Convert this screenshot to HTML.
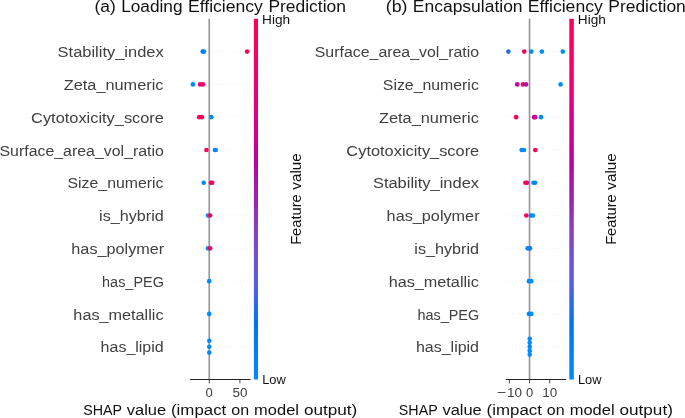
<!DOCTYPE html>
<html><head><meta charset="utf-8"><style>
html,body{margin:0;padding:0;background:#fff;}
body{width:685px;height:418px;overflow:hidden;}
svg{display:block;will-change:transform;font-family:"Liberation Sans",sans-serif;}
</style></head><body>
<svg width="685" height="418" viewBox="0 0 685 418">
<defs><linearGradient id="cbgrad" x1="0" y1="0" x2="0" y2="1"><stop offset="0.000" stop-color="#ff0051"/><stop offset="0.050" stop-color="#fe005c"/><stop offset="0.100" stop-color="#f90067"/><stop offset="0.150" stop-color="#f20072"/><stop offset="0.200" stop-color="#e9007c"/><stop offset="0.250" stop-color="#e00086"/><stop offset="0.300" stop-color="#d5008f"/><stop offset="0.350" stop-color="#c80098"/><stop offset="0.400" stop-color="#bb00a0"/><stop offset="0.450" stop-color="#ab15a7"/><stop offset="0.500" stop-color="#9b23ad"/><stop offset="0.550" stop-color="#9135ba"/><stop offset="0.600" stop-color="#8443c6"/><stop offset="0.650" stop-color="#754fd1"/><stop offset="0.700" stop-color="#6359da"/><stop offset="0.750" stop-color="#4b63e3"/><stop offset="0.800" stop-color="#236cea"/><stop offset="0.850" stop-color="#0074f0"/><stop offset="0.900" stop-color="#007cf5"/><stop offset="0.950" stop-color="#0084f9"/><stop offset="1.000" stop-color="#008bfb"/></linearGradient></defs>
<rect width="685" height="418" fill="#fff"/>
<line x1="189.90" y1="51.59" x2="250.50" y2="51.59" stroke="#cccccc" stroke-width="0.56" stroke-dasharray="0.56 2.8"/>
<line x1="189.90" y1="84.38" x2="250.50" y2="84.38" stroke="#cccccc" stroke-width="0.56" stroke-dasharray="0.56 2.8"/>
<line x1="189.90" y1="117.17" x2="250.50" y2="117.17" stroke="#cccccc" stroke-width="0.56" stroke-dasharray="0.56 2.8"/>
<line x1="189.90" y1="149.96" x2="250.50" y2="149.96" stroke="#cccccc" stroke-width="0.56" stroke-dasharray="0.56 2.8"/>
<line x1="189.90" y1="182.75" x2="250.50" y2="182.75" stroke="#cccccc" stroke-width="0.56" stroke-dasharray="0.56 2.8"/>
<line x1="189.90" y1="215.55" x2="250.50" y2="215.55" stroke="#cccccc" stroke-width="0.56" stroke-dasharray="0.56 2.8"/>
<line x1="189.90" y1="248.34" x2="250.50" y2="248.34" stroke="#cccccc" stroke-width="0.56" stroke-dasharray="0.56 2.8"/>
<line x1="189.90" y1="281.13" x2="250.50" y2="281.13" stroke="#cccccc" stroke-width="0.56" stroke-dasharray="0.56 2.8"/>
<line x1="189.90" y1="313.92" x2="250.50" y2="313.92" stroke="#cccccc" stroke-width="0.56" stroke-dasharray="0.56 2.8"/>
<line x1="189.90" y1="346.71" x2="250.50" y2="346.71" stroke="#cccccc" stroke-width="0.56" stroke-dasharray="0.56 2.8"/>
<line x1="209.25" y1="18.80" x2="209.25" y2="379.50" stroke="#999999" stroke-width="1.68"/>
<circle cx="202.70" cy="51.59" r="2.3" fill="#007ff7"/>
<circle cx="203.90" cy="51.59" r="2.3" fill="#007ff7"/>
<circle cx="247.10" cy="51.59" r="2.3" fill="#ff0051"/>
<circle cx="192.90" cy="84.38" r="2.3" fill="#008bfb"/>
<circle cx="200.10" cy="84.38" r="2.3" fill="#e00086"/>
<circle cx="203.00" cy="84.38" r="2.3" fill="#ff0058"/>
<circle cx="199.20" cy="117.17" r="2.3" fill="#ff0056"/>
<circle cx="201.90" cy="117.17" r="2.3" fill="#ff0056"/>
<circle cx="211.30" cy="117.17" r="2.3" fill="#008bfb"/>
<circle cx="206.40" cy="149.96" r="2.3" fill="#ff0056"/>
<circle cx="214.90" cy="149.96" r="2.3" fill="#008bfb"/>
<circle cx="215.80" cy="149.96" r="2.3" fill="#008bfb"/>
<circle cx="203.70" cy="182.75" r="2.3" fill="#008bfb"/>
<circle cx="212.20" cy="182.75" r="2.3" fill="#9b23ad"/>
<circle cx="210.90" cy="182.75" r="2.3" fill="#ff0056"/>
<circle cx="208.00" cy="215.55" r="2.3" fill="#008bfb"/>
<circle cx="210.10" cy="215.55" r="2.3" fill="#ff0051"/>
<circle cx="208.00" cy="248.34" r="2.3" fill="#008bfb"/>
<circle cx="210.10" cy="248.34" r="2.3" fill="#ff0051"/>
<circle cx="209.20" cy="281.13" r="2.3" fill="#008bfb"/>
<circle cx="209.20" cy="313.92" r="2.3" fill="#008bfb"/>
<circle cx="209.25" cy="340.71" r="2.3" fill="#008bfb"/>
<circle cx="209.25" cy="346.71" r="2.3" fill="#008bfb"/>
<circle cx="209.25" cy="352.61" r="2.3" fill="#008bfb"/>
<line x1="189.90" y1="379.50" x2="250.50" y2="379.50" stroke="#222222" stroke-width="1.1"/>
<line x1="209.25" y1="379.50" x2="209.25" y2="383.40" stroke="#333333" stroke-width="0.9"/>
<text x="205.64" y="396.90" font-size="12.92" fill="#404040" textLength="7.22" lengthAdjust="spacingAndGlyphs">0</text>
<line x1="239.90" y1="379.50" x2="239.90" y2="383.40" stroke="#333333" stroke-width="0.9"/>
<text x="232.48" y="396.90" font-size="12.92" fill="#404040" textLength="14.96" lengthAdjust="spacingAndGlyphs">50</text>
<text x="57.61" y="57.29" font-size="15.27" fill="#404040" textLength="106.10" lengthAdjust="spacingAndGlyphs">Stability_index</text>
<text x="63.74" y="90.08" font-size="15.27" fill="#404040" textLength="99.78" lengthAdjust="spacingAndGlyphs">Zeta_numeric</text>
<text x="31.09" y="122.87" font-size="15.27" fill="#404040" textLength="132.85" lengthAdjust="spacingAndGlyphs">Cytotoxicity_score</text>
<text x="-0.54" y="155.66" font-size="15.27" fill="#404040" textLength="164.41" lengthAdjust="spacingAndGlyphs">Surface_area_vol_ratio</text>
<text x="67.52" y="188.45" font-size="15.27" fill="#404040" textLength="96.00" lengthAdjust="spacingAndGlyphs">Size_numeric</text>
<text x="99.07" y="221.25" font-size="15.27" fill="#404040" textLength="64.64" lengthAdjust="spacingAndGlyphs">is_hybrid</text>
<text x="71.33" y="254.04" font-size="15.27" fill="#404040" textLength="92.94" lengthAdjust="spacingAndGlyphs">has_polymer</text>
<text x="102.10" y="286.83" font-size="15.27" fill="#404040" textLength="61.78" lengthAdjust="spacingAndGlyphs">has_PEG</text>
<text x="73.36" y="319.62" font-size="15.27" fill="#404040" textLength="90.16" lengthAdjust="spacingAndGlyphs">has_metallic</text>
<text x="100.64" y="352.41" font-size="15.27" fill="#404040" textLength="63.07" lengthAdjust="spacingAndGlyphs">has_lipid</text>
<text x="94.54" y="12.00" font-size="16.45" fill="#111111" textLength="21.29" lengthAdjust="spacingAndGlyphs">(a)</text><text x="121.20" y="12.00" font-size="16.45" fill="#111111" textLength="61.38" lengthAdjust="spacingAndGlyphs">Loading</text><text x="187.96" y="12.00" font-size="16.45" fill="#111111" textLength="74.94" lengthAdjust="spacingAndGlyphs">Efficiency</text><text x="268.41" y="12.00" font-size="16.45" fill="#111111" textLength="77.52" lengthAdjust="spacingAndGlyphs">Prediction</text>
<text x="83.22" y="414.60" font-size="15.27" fill="#111111" textLength="38.86" lengthAdjust="spacingAndGlyphs">SHAP</text><text x="126.81" y="414.60" font-size="15.27" fill="#111111" textLength="39.32" lengthAdjust="spacingAndGlyphs">value</text><text x="171.00" y="414.60" font-size="15.27" fill="#111111" textLength="55.28" lengthAdjust="spacingAndGlyphs">(impact</text><text x="231.29" y="414.60" font-size="15.27" fill="#111111" textLength="17.81" lengthAdjust="spacingAndGlyphs">on</text><text x="254.14" y="414.60" font-size="15.27" fill="#111111" textLength="44.81" lengthAdjust="spacingAndGlyphs">model</text><text x="303.90" y="414.60" font-size="15.27" fill="#111111" textLength="53.39" lengthAdjust="spacingAndGlyphs">output)</text>
<rect x="253.90" y="18.80" width="4.10" height="360.70" fill="url(#cbgrad)"/>
<text x="262.09" y="23.60" font-size="12.92" fill="#111111" textLength="28.05" lengthAdjust="spacingAndGlyphs">High</text>
<text x="262.15" y="384.20" font-size="12.92" fill="#111111" textLength="23.55" lengthAdjust="spacingAndGlyphs">Low</text>
<text transform="translate(300.80,199.15) rotate(-90)" x="-45.73" y="0" font-size="14.10" fill="#111111" textLength="50.57" lengthAdjust="spacingAndGlyphs">Feature</text><text transform="translate(300.80,199.15) rotate(-90)" x="9.51" y="0" font-size="14.10" fill="#111111" textLength="36.30" lengthAdjust="spacingAndGlyphs">value</text>
<line x1="505.70" y1="51.59" x2="565.90" y2="51.59" stroke="#cccccc" stroke-width="0.56" stroke-dasharray="0.56 2.8"/>
<line x1="505.70" y1="84.38" x2="565.90" y2="84.38" stroke="#cccccc" stroke-width="0.56" stroke-dasharray="0.56 2.8"/>
<line x1="505.70" y1="117.17" x2="565.90" y2="117.17" stroke="#cccccc" stroke-width="0.56" stroke-dasharray="0.56 2.8"/>
<line x1="505.70" y1="149.96" x2="565.90" y2="149.96" stroke="#cccccc" stroke-width="0.56" stroke-dasharray="0.56 2.8"/>
<line x1="505.70" y1="182.75" x2="565.90" y2="182.75" stroke="#cccccc" stroke-width="0.56" stroke-dasharray="0.56 2.8"/>
<line x1="505.70" y1="215.55" x2="565.90" y2="215.55" stroke="#cccccc" stroke-width="0.56" stroke-dasharray="0.56 2.8"/>
<line x1="505.70" y1="248.34" x2="565.90" y2="248.34" stroke="#cccccc" stroke-width="0.56" stroke-dasharray="0.56 2.8"/>
<line x1="505.70" y1="281.13" x2="565.90" y2="281.13" stroke="#cccccc" stroke-width="0.56" stroke-dasharray="0.56 2.8"/>
<line x1="505.70" y1="313.92" x2="565.90" y2="313.92" stroke="#cccccc" stroke-width="0.56" stroke-dasharray="0.56 2.8"/>
<line x1="505.70" y1="346.71" x2="565.90" y2="346.71" stroke="#cccccc" stroke-width="0.56" stroke-dasharray="0.56 2.8"/>
<line x1="529.55" y1="18.80" x2="529.55" y2="379.50" stroke="#999999" stroke-width="1.68"/>
<circle cx="508.40" cy="51.59" r="2.3" fill="#236cea"/>
<circle cx="524.20" cy="51.59" r="2.3" fill="#ff0051"/>
<circle cx="531.30" cy="51.59" r="2.3" fill="#008bfb"/>
<circle cx="541.90" cy="51.59" r="2.3" fill="#008bfb"/>
<circle cx="562.80" cy="51.59" r="2.3" fill="#008bfb"/>
<circle cx="517.20" cy="84.38" r="2.3" fill="#d00093"/>
<circle cx="523.00" cy="84.38" r="2.3" fill="#fe005c"/>
<circle cx="526.10" cy="84.38" r="2.3" fill="#a819a8"/>
<circle cx="560.60" cy="84.38" r="2.3" fill="#008bfb"/>
<circle cx="516.10" cy="117.17" r="2.3" fill="#ff0051"/>
<circle cx="534.10" cy="117.17" r="2.3" fill="#d00093"/>
<circle cx="535.10" cy="117.17" r="2.3" fill="#d00093"/>
<circle cx="541.00" cy="117.17" r="2.3" fill="#008bfb"/>
<circle cx="521.60" cy="149.96" r="2.3" fill="#008bfb"/>
<circle cx="524.00" cy="149.96" r="2.3" fill="#008bfb"/>
<circle cx="535.30" cy="149.96" r="2.3" fill="#ff0051"/>
<circle cx="527.00" cy="182.75" r="2.3" fill="#9b23ad"/>
<circle cx="525.40" cy="182.75" r="2.3" fill="#ff0051"/>
<circle cx="533.50" cy="182.75" r="2.3" fill="#008bfb"/>
<circle cx="535.10" cy="182.75" r="2.3" fill="#008bfb"/>
<circle cx="526.30" cy="215.55" r="2.3" fill="#ff0051"/>
<circle cx="530.80" cy="215.55" r="2.3" fill="#008bfb"/>
<circle cx="533.00" cy="215.55" r="2.3" fill="#008bfb"/>
<circle cx="529.90" cy="248.34" r="2.3" fill="#f20072"/>
<circle cx="527.60" cy="248.34" r="2.3" fill="#008bfb"/>
<circle cx="529.30" cy="248.34" r="2.3" fill="#008bfb"/>
<circle cx="528.90" cy="281.13" r="2.3" fill="#008bfb"/>
<circle cx="531.30" cy="281.13" r="2.3" fill="#008bfb"/>
<circle cx="528.90" cy="313.92" r="2.3" fill="#008bfb"/>
<circle cx="531.30" cy="313.92" r="2.3" fill="#008bfb"/>
<circle cx="529.70" cy="338.81" r="2.3" fill="#008bfb"/>
<circle cx="529.70" cy="342.76" r="2.3" fill="#008bfb"/>
<circle cx="529.70" cy="346.71" r="2.3" fill="#008bfb"/>
<circle cx="529.70" cy="350.66" r="2.3" fill="#008bfb"/>
<circle cx="529.70" cy="354.61" r="2.3" fill="#008bfb"/>
<line x1="505.70" y1="379.50" x2="565.90" y2="379.50" stroke="#222222" stroke-width="1.1"/>
<line x1="509.40" y1="379.50" x2="509.40" y2="383.40" stroke="#333333" stroke-width="0.9"/>
<text x="496.94" y="396.90" font-size="12.92" fill="#404040" textLength="9.26" lengthAdjust="spacingAndGlyphs">−</text><text x="507.05" y="396.90" font-size="12.92" fill="#404040" textLength="15.05" lengthAdjust="spacingAndGlyphs">10</text>
<line x1="529.55" y1="379.50" x2="529.55" y2="383.40" stroke="#333333" stroke-width="0.9"/>
<text x="525.94" y="396.90" font-size="12.92" fill="#404040" textLength="7.22" lengthAdjust="spacingAndGlyphs">0</text>
<line x1="549.70" y1="379.50" x2="549.70" y2="383.40" stroke="#333333" stroke-width="0.9"/>
<text x="542.19" y="396.90" font-size="12.92" fill="#404040" textLength="15.05" lengthAdjust="spacingAndGlyphs">10</text>
<text x="314.76" y="57.29" font-size="15.27" fill="#404040" textLength="164.41" lengthAdjust="spacingAndGlyphs">Surface_area_vol_ratio</text>
<text x="382.82" y="90.08" font-size="15.27" fill="#404040" textLength="96.00" lengthAdjust="spacingAndGlyphs">Size_numeric</text>
<text x="379.04" y="122.87" font-size="15.27" fill="#404040" textLength="99.78" lengthAdjust="spacingAndGlyphs">Zeta_numeric</text>
<text x="346.39" y="155.66" font-size="15.27" fill="#404040" textLength="132.85" lengthAdjust="spacingAndGlyphs">Cytotoxicity_score</text>
<text x="372.91" y="188.45" font-size="15.27" fill="#404040" textLength="106.10" lengthAdjust="spacingAndGlyphs">Stability_index</text>
<text x="386.63" y="221.25" font-size="15.27" fill="#404040" textLength="92.94" lengthAdjust="spacingAndGlyphs">has_polymer</text>
<text x="414.37" y="254.04" font-size="15.27" fill="#404040" textLength="64.64" lengthAdjust="spacingAndGlyphs">is_hybrid</text>
<text x="388.66" y="286.83" font-size="15.27" fill="#404040" textLength="90.16" lengthAdjust="spacingAndGlyphs">has_metallic</text>
<text x="417.40" y="319.62" font-size="15.27" fill="#404040" textLength="61.78" lengthAdjust="spacingAndGlyphs">has_PEG</text>
<text x="415.94" y="352.41" font-size="15.27" fill="#404040" textLength="63.07" lengthAdjust="spacingAndGlyphs">has_lipid</text>
<text x="385.83" y="12.00" font-size="16.45" fill="#111111" textLength="21.68" lengthAdjust="spacingAndGlyphs">(b)</text><text x="412.83" y="12.00" font-size="16.45" fill="#111111" textLength="109.74" lengthAdjust="spacingAndGlyphs">Encapsulation</text><text x="527.84" y="12.00" font-size="16.45" fill="#111111" textLength="74.94" lengthAdjust="spacingAndGlyphs">Efficiency</text><text x="608.30" y="12.00" font-size="16.45" fill="#111111" textLength="77.52" lengthAdjust="spacingAndGlyphs">Prediction</text>
<text x="398.82" y="414.60" font-size="15.27" fill="#111111" textLength="38.86" lengthAdjust="spacingAndGlyphs">SHAP</text><text x="442.41" y="414.60" font-size="15.27" fill="#111111" textLength="39.32" lengthAdjust="spacingAndGlyphs">value</text><text x="486.60" y="414.60" font-size="15.27" fill="#111111" textLength="55.28" lengthAdjust="spacingAndGlyphs">(impact</text><text x="546.89" y="414.60" font-size="15.27" fill="#111111" textLength="17.81" lengthAdjust="spacingAndGlyphs">on</text><text x="569.74" y="414.60" font-size="15.27" fill="#111111" textLength="44.81" lengthAdjust="spacingAndGlyphs">model</text><text x="619.50" y="414.60" font-size="15.27" fill="#111111" textLength="53.39" lengthAdjust="spacingAndGlyphs">output)</text>
<rect x="569.30" y="18.80" width="4.50" height="360.70" fill="url(#cbgrad)"/>
<text x="577.89" y="23.60" font-size="12.92" fill="#111111" textLength="28.05" lengthAdjust="spacingAndGlyphs">High</text>
<text x="577.95" y="384.20" font-size="12.92" fill="#111111" textLength="23.55" lengthAdjust="spacingAndGlyphs">Low</text>
<text transform="translate(616.40,199.15) rotate(-90)" x="-45.73" y="0" font-size="14.10" fill="#111111" textLength="50.57" lengthAdjust="spacingAndGlyphs">Feature</text><text transform="translate(616.40,199.15) rotate(-90)" x="9.51" y="0" font-size="14.10" fill="#111111" textLength="36.30" lengthAdjust="spacingAndGlyphs">value</text>
</svg>
</body></html>
